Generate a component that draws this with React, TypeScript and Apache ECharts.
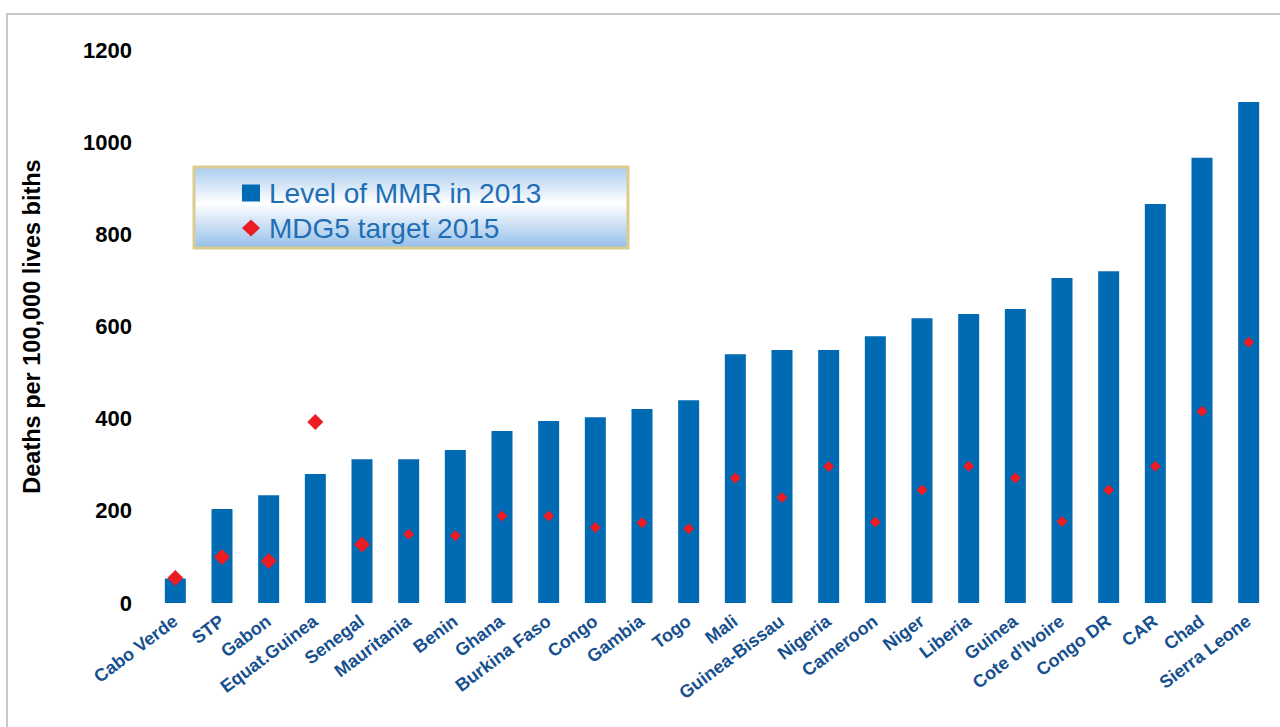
import React, { useEffect, useRef } from "react";
import * as echarts from "echarts";

const categories = [
  "Cabo Verde", "STP", "Gabon", "Equat.Guinea", "Senegal", "Mauritania", "Benin", "Ghana",
  "Burkina Faso", "Congo", "Gambia", "Togo", "Mali", "Guinea-Bissau", "Nigeria", "Cameroon",
  "Niger", "Liberia", "Guinea", "Cote d’Ivoire", "Congo DR", "CAR", "Chad", "Sierra Leone",
];
const mmr2013 = [53, 204, 234, 280, 312, 312, 332, 373, 395, 403, 421, 440, 540, 549, 549, 579, 618, 627, 638, 705, 720, 866, 966, 1087];
const mdg5Target = [54, 100, 91, 393, 127, 149, 146, 189, 189, 164, 174, 161, 271, 229, 296, 176, 245, 297, 271, 177, 245, 297, 416, 566];
const yTicks = [0, 200, 400, 600, 800, 1000, 1200];
const seriesNames = ["Level of MMR in 2013", "MDG5 target 2015"];
const yAxisTitle = "Deaths per 100,000 lives biths";

const FONT = "'Liberation Sans', Arial, sans-serif";

export default function App() {
  const ref = useRef<HTMLDivElement>(null);
  useEffect(() => {
    document.body.style.margin = "0";
    const chart = echarts.init(ref.current!, undefined, { renderer: "svg" });

    chart.setOption({
      animation: false,
      backgroundColor: "#ffffff",
      graphic: [
        {
          type: "rect",
          z: 0,
          shape: { x: 7, y: 14, width: 1400, height: 900 },
          style: { fill: "none", stroke: "#C8C8C8", lineWidth: 2 },
        },
        {
          type: "rect",
          z: 1,
          shape: { x: 194, y: 167, width: 434, height: 81 },
          style: {
            fill: new echarts.graphic.LinearGradient(0, 0, 0, 1, [
              { offset: 0, color: "#A9CCEE" },
              { offset: 0.45, color: "#FFFFFF" },
              { offset: 1, color: "#94BFE8" },
            ]),
            stroke: "#DACB8F",
            lineWidth: 3,
          },
        },
      ],
      legend: {
        orient: "vertical",
        left: 242,
        top: 179,
        z: 10,
        padding: 0,
        itemGap: 7,
        itemWidth: 18,
        itemHeight: 17,
        textStyle: { fontSize: 28, color: "#1F6EB5", fontFamily: FONT, padding: [0, 0, 0, 4] },
        data: [
          { name: seriesNames[0], icon: "rect" },
          { name: seriesNames[1], icon: "diamond" },
        ],
      },
      grid: { left: 152, right: 8, top: 50, bottom: 124 },
      xAxis: {
        type: "category",
        data: categories,
        axisLine: { show: false },
        axisTick: { show: false },
        axisLabel: {
          interval: 0,
          rotate: 37,
          margin: 16,
          fontSize: 18,
          fontWeight: "bold",
          color: "#17508F",
          fontFamily: FONT,
        },
      },
      yAxis: {
        type: "value",
        min: yTicks[0],
        max: yTicks[yTicks.length - 1],
        interval: yTicks[1] - yTicks[0],
        name: yAxisTitle,
        nameLocation: "middle",
        nameRotate: 90,
        nameGap: 108,
        nameTextStyle: { fontSize: 23.5, fontWeight: "bold", color: "#000", fontFamily: FONT },
        axisLine: { show: false },
        axisTick: { show: false },
        splitLine: { show: false },
        axisLabel: {
          fontSize: 22,
          fontWeight: "bold",
          color: "#000",
          margin: 20,
          fontFamily: FONT,
          formatter: (v: number) => String(v),
        },
      },
      series: [
        {
          type: "bar",
          name: seriesNames[0],
          data: mmr2013,
          barWidth: 21,
          itemStyle: { color: "#006AB3" },
        },
        {
          type: "scatter",
          name: seriesNames[1],
          data: mdg5Target,
          symbol: "diamond",
          symbolSize: (_v: number, p: any) => (p.dataIndex < 5 ? 16 : 11),
          itemStyle: { color: "#EC1C24", opacity: 1 },
          z: 5,
        },
      ],
    });
    return () => chart.dispose();
  }, []);
  return <div ref={ref} style={{ width: 1280, height: 727 }} />;
}
